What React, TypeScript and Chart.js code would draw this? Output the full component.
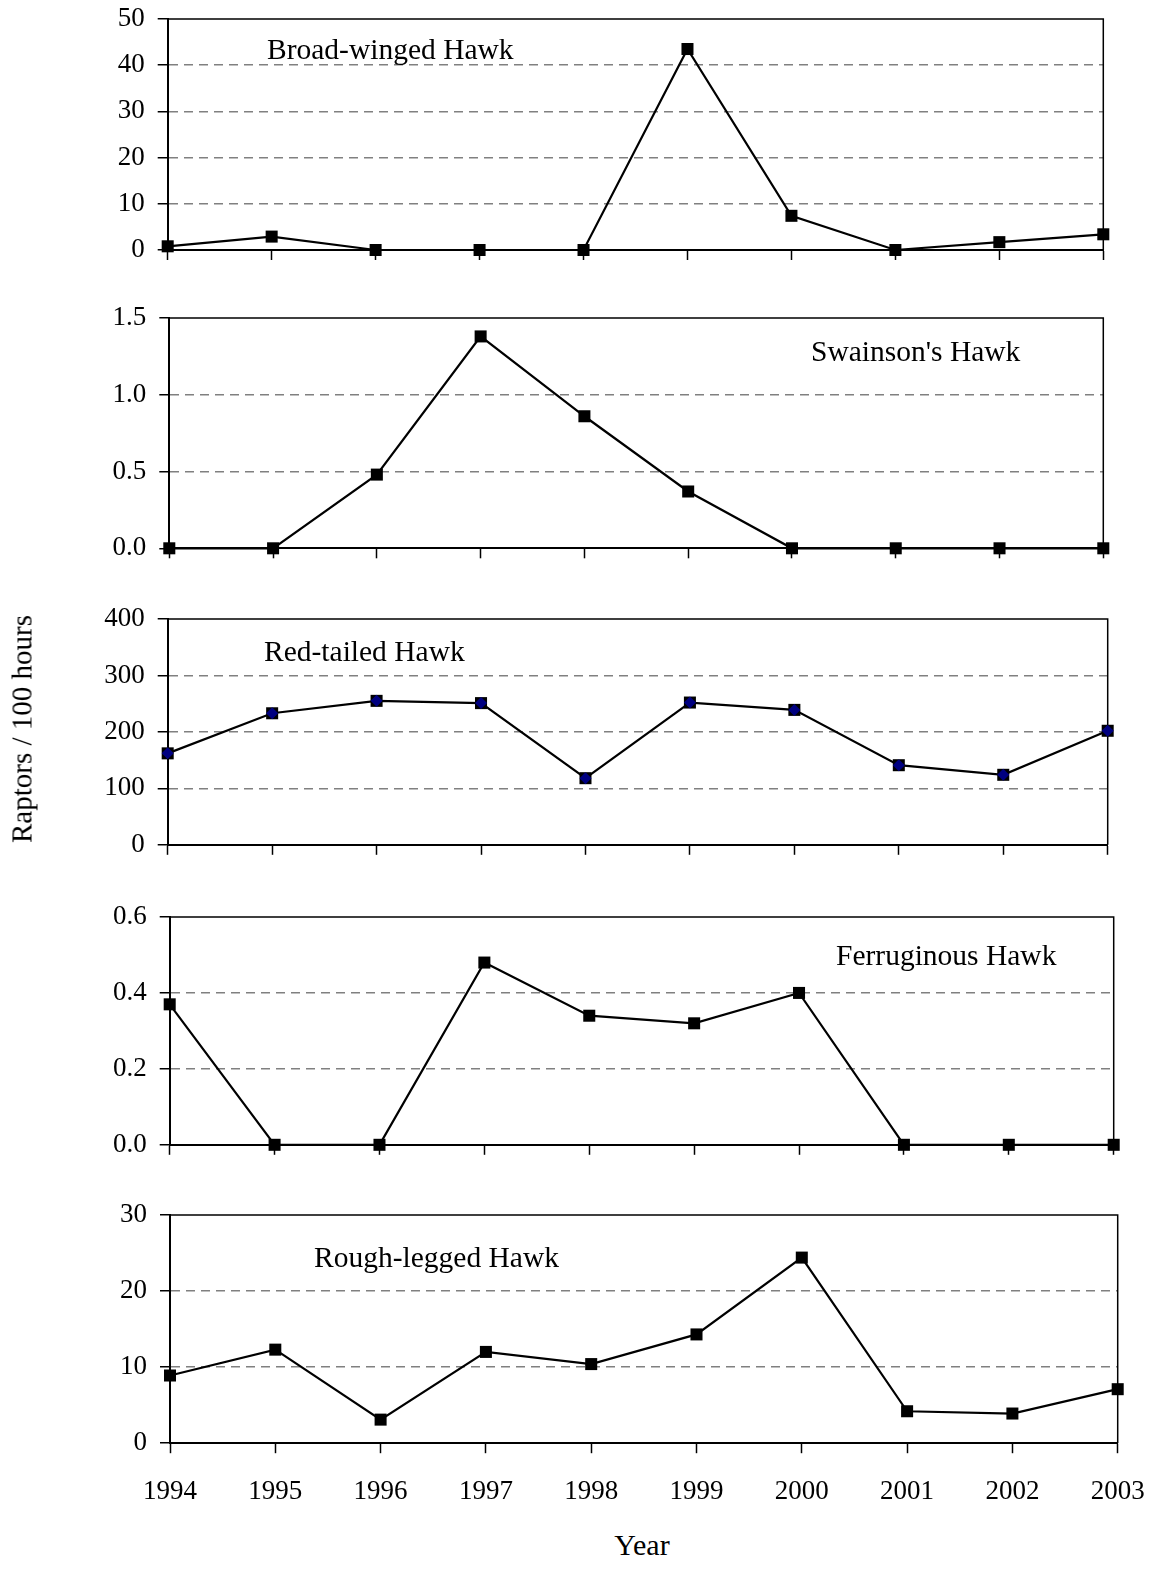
import React, { useEffect, useRef } from "react";
import { Chart, registerables } from "chart.js";

Chart.register(...registerables);

// ---------- data ----------
const years = ["1994", "1995", "1996", "1997", "1998", "1999", "2000", "2001", "2002", "2003"];
const broadWinged = [0.8, 2.9, 0, 0, 0, 43.5, 7.4, 0, 1.7, 3.4];
const swainsons = [0, 0, 0.48, 1.38, 0.86, 0.37, 0, 0, 0, 0];
const redTailed = [162, 233, 255, 251, 118, 252, 239, 141, 124, 202];
const ferruginous = [0.37, 0, 0, 0.48, 0.34, 0.32, 0.4, 0, 0, 0];
const roughLegged = [8.9, 12.3, 3.1, 12.0, 10.4, 14.3, 24.4, 4.2, 3.9, 7.1];

const speciesNames = ["Broad-winged Hawk", "Swainson's Hawk", "Red-tailed Hawk", "Ferruginous Hawk", "Rough-legged Hawk"];
const seriesList = [broadWinged, swainsons, redTailed, ferruginous, roughLegged];
const yMaxList = [50, 1.5, 400, 0.6, 30];
const yStepList = [10, 0.5, 100, 0.2, 10];
const yDecimals = [0, 1, 0, 1, 0];
const yAxisTitle = "Raptors / 100 hours";
const xAxisTitle = "Year";

// ---------- layout (pixels) ----------
const W = 1151;
const H = 1574;
const PAD_TOP = 18;
const FONT = "'Liberation Serif', 'Times New Roman', serif";
const layoutList = [
  { L: 167.7, R: 1103.3, T: 19, B: 250, tx: 267, tb: 60 },
  { L: 169.3, R: 1103.3, T: 318, B: 548.3, tx: 811, tb: 362 },
  { L: 167.7, R: 1107.7, T: 618.5, B: 844.3, tx: 264, tb: 662 },
  { L: 169.7, R: 1113.7, T: 916.5, B: 1144.3, tx: 836, tb: 966 },
  { L: 170, R: 1117.7, T: 1214.5, B: 1442.7, tx: 314, tb: 1268 },
];

const framePlugin = {
  id: "frame",
  beforeDatasetsDraw(chart: any) {
    const { ctx, chartArea: a } = chart;
    ctx.save();
    ctx.strokeStyle = "#000";
    ctx.lineWidth = 1.5;
    ctx.beginPath();
    ctx.moveTo(a.left, a.top);
    ctx.lineTo(a.right, a.top);
    ctx.lineTo(a.right, a.bottom);
    ctx.stroke();
    ctx.restore();
  },
};

function Panel({ idx }: { idx: number }) {
  const ref = useRef<HTMLCanvasElement>(null);
  const lay = layoutList[idx];
  const isLast = idx === layoutList.length - 1;
  const xH = isLast ? 70 : 14;
  const canvasTop = lay.T - PAD_TOP;
  const canvasH = Math.round(PAD_TOP + (lay.B - lay.T) + xH);

  useEffect(() => {
    const canvas = ref.current!;
    const max = yMaxList[idx];
    const dec = yDecimals[idx];
    const data = seriesList[idx];
    const datasets: any[] = [
      {
        data,
        borderColor: "#000",
        borderWidth: 2.2,
        pointStyle: "rect",
        pointRadius: 8.5,
        pointBackgroundColor: "#000",
        pointBorderColor: "#000",
        pointBorderWidth: 0,
        fill: false,
        tension: 0,
        clip: false,
        order: 1,
      },
    ];
    if (idx === 2) {
      datasets.push({
        data,
        showLine: false,
        pointStyle: "rectRot",
        pointRadius: 6,
        pointBackgroundColor: "#000080",
        pointBorderWidth: 0,
        clip: false,
        order: 0,
      });
    }
    const chart = new Chart(canvas, {
      type: "line",
      data: { labels: years, datasets },
      options: {
        animation: false,
        responsive: false,
        devicePixelRatio: 1,
        events: [],
        layout: { padding: { left: 0, right: W - lay.R, top: PAD_TOP, bottom: canvasH - PAD_TOP - (lay.B - lay.T) - xH } },
        plugins: { legend: { display: false }, tooltip: { enabled: false }, title: { display: false } },
        scales: {
          x: {
            type: "category",
            offset: false,
            grid: {
              display: true,
              drawOnChartArea: false,
              drawTicks: true,
              tickLength: 10,
              tickColor: "#000",
              tickWidth: 1.5,
              offset: false,
            },
            border: { display: true, color: "#000", width: 2 },
            ticks: {
              display: isLast,
              color: "#000",
              font: { family: FONT, size: 27 },
              padding: 23,
              maxRotation: 0,
              minRotation: 0,
              autoSkip: false,
            },
            afterFit: (axis: any) => {
              axis.height = xH;
              axis.paddingLeft = 0;
              axis.paddingRight = 0;
              axis.paddingTop = 0;
              axis.paddingBottom = 0;
            },
          },
          y: {
            min: 0,
            max,
            ticks: {
              stepSize: yStepList[idx],
              color: "#000",
              font: { family: FONT, size: 27 },
              padding: 13,
              callback: (v: any) => Number(v).toFixed(dec),
            },
            grid: {
              color: (c: any) =>
                c.index === 0 || (c.tick && Math.abs(c.tick.value - max) < 1e-9) ? "rgba(0,0,0,0)" : "#808080",
              lineWidth: 1.5,
              tickColor: "#000",
              tickLength: 10,
              tickWidth: 1.5,
            },
            border: { display: true, color: "#000", width: 2, dash: [9, 6] },
            afterFit: (axis: any) => {
              axis.width = lay.L;
              axis.paddingTop = 0;
              axis.paddingBottom = 0;
              axis.paddingLeft = 0;
              axis.paddingRight = 0;
            },
          },
        },
      } as any,
      plugins: [framePlugin],
    });
    return () => chart.destroy();
  }, []);

  return (
    <canvas
      ref={ref}
      width={W}
      height={canvasH}
      style={{ position: "absolute", left: 0, top: canvasTop, width: W, height: canvasH }}
    />
  );
}

export default function App() {
  const titleSize = 29.5;
  const baseOff = 24.7;
  return (
    <div
      style={{
        position: "absolute",
        left: 0,
        top: 0,
        width: W,
        height: H,
        overflow: "hidden",
        background: "#fff",
        fontFamily: FONT,
        color: "#000",
      }}
    >
      {layoutList.map((_, i) => (
        <Panel key={i} idx={i} />
      ))}
      {layoutList.map((lay, i) => (
        <div
          key={"t" + i}
          style={{
            position: "absolute",
            left: lay.tx,
            top: lay.tb - baseOff,
            fontSize: titleSize,
            lineHeight: 1,
            whiteSpace: "nowrap",
          }}
        >
          {speciesNames[i]}
        </div>
      ))}
      <div
        style={{
          position: "absolute",
          left: 22,
          top: 729,
          width: 400,
          textAlign: "center",
          fontSize: 29,
          lineHeight: 1,
          whiteSpace: "nowrap",
          transform: "translate(-50%, -50%) rotate(-90deg)",
        }}
      >
        {yAxisTitle}
      </div>
      <div
        style={{
          position: "absolute",
          left: 642,
          top: 1545,
          width: 200,
          textAlign: "center",
          fontSize: 30,
          lineHeight: 1,
          transform: "translate(-50%, -50%)",
        }}
      >
        {xAxisTitle}
      </div>
    </div>
  );
}
